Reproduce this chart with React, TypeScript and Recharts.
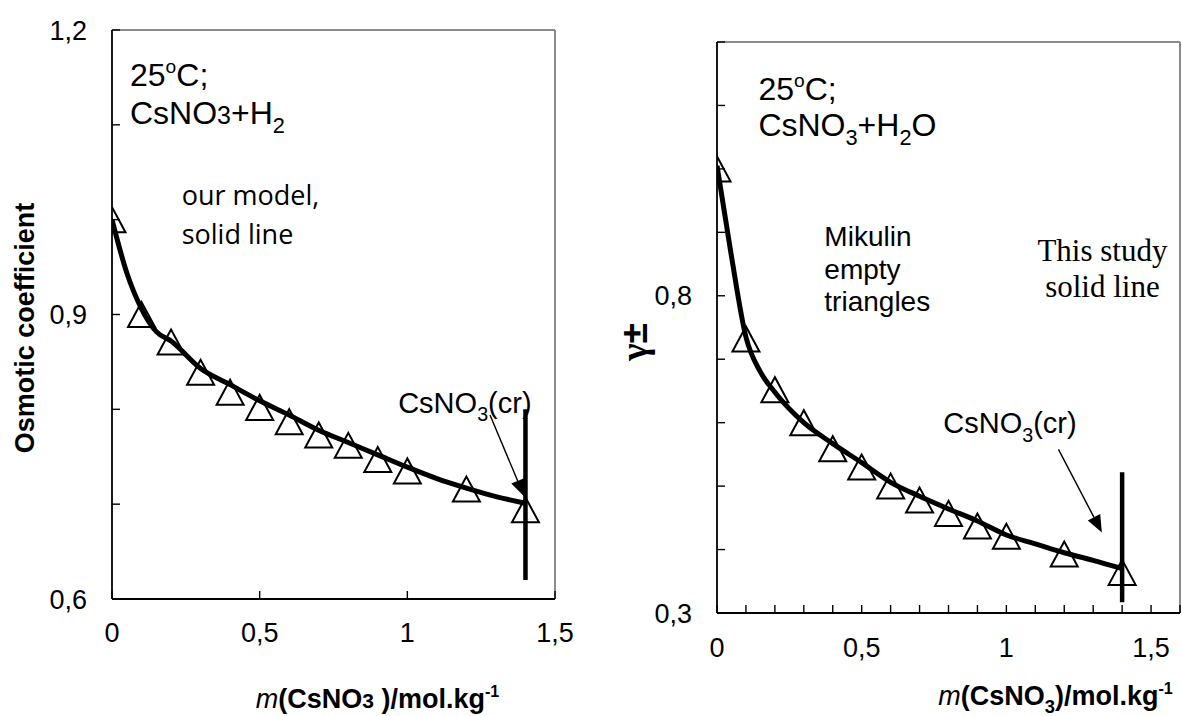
import React from 'react';
import { ComposedChart, Line, Scatter, XAxis, YAxis, ReferenceLine, ReferenceDot } from 'recharts';

// ---------- data ----------
const molality = [0, 0.1, 0.2, 0.3, 0.4, 0.5, 0.6, 0.7, 0.8, 0.9, 1.0, 1.2, 1.4];
const osmoticExp = [1.0, 0.9, 0.871, 0.839, 0.818, 0.802, 0.787, 0.773, 0.762, 0.747, 0.735, 0.716, 0.694];
const gammaExp = [1.0, 0.732, 0.652, 0.6, 0.559, 0.53, 0.5, 0.478, 0.457, 0.437, 0.421, 0.393, 0.364];

const modelMolality = [0, 0.05, 0.1, 0.15, 0.2, 0.3, 0.4, 0.5, 0.6, 0.7, 0.8, 0.9, 1.0, 1.1, 1.2, 1.3, 1.4];
const osmoticModel = [1.0, 0.944, 0.906, 0.882, 0.872, 0.843, 0.826, 0.809, 0.794, 0.778, 0.765, 0.752, 0.739, 0.727, 0.717, 0.708, 0.701];
const gammaModel = [1.005, 0.862, 0.735, 0.68, 0.648, 0.6, 0.567, 0.537, 0.506, 0.484, 0.464, 0.445, 0.423, 0.409, 0.395, 0.383, 0.37];

const leftXTicks = [0, 0.5, 1, 1.5];
const leftXLabels = [0, 0.5, 1, 1.5];
const leftYTicks = [0.6, 0.7, 0.8, 0.9, 1.0, 1.1, 1.2];
const leftYLabels = [0.6, 0.9, 1.2];

const rightXTicks = [0, 0.1, 0.2, 0.3, 0.4, 0.5, 0.6, 0.7, 0.8, 0.9, 1.0, 1.1, 1.2, 1.3, 1.4, 1.5, 1.6];
const rightXLabels = [0, 0.5, 1, 1.5];
const rightYTicks = [0.3, 0.4, 0.5, 0.6, 0.7, 0.8, 0.9, 1.0, 1.1, 1.2];
const rightYLabels = [0.3, 0.8];

const solubility = 1.4;
const leftSolubilityRange = [0.62, 0.8];
const rightSolubilityRange = [0.317, 0.522];

// ---------- styles ----------
const SANS = '"Liberation Sans", Arial, sans-serif';
const SERIF = '"Liberation Serif", "Times New Roman", serif';
const HUMAN = '"Open Sans", "Noto Sans", sans-serif';
const TICK_LEN = 8;
const TICK_FONT = 27;

type Seg = { t: string; k?: 'sub' | 'sup' | 'small'; i?: boolean };

function Rich(props: {
  x: number; y: number; size: number; segs: Seg[]; anchor?: string; weight?: string | number;
  family?: string; transform?: string;
}) {
  const { x, y, size, segs, anchor = 'start', weight = 'normal', family = SANS, transform } = props;
  let cur = 0;
  const spans = segs.map((s, idx) => {
    let target = 0;
    let fs = size;
    if (s.k === 'sub') { target = 0.28 * size; fs = 0.68 * size; }
    if (s.k === 'sup') { target = -0.4 * size; fs = 0.6 * size; }
    if (s.k === 'small') { fs = 0.78 * size; }
    const dy = target - cur;
    cur = target;
    return (
      <tspan key={idx} dy={dy} fontSize={fs} fontStyle={s.i ? 'italic' : undefined} fontWeight={s.i ? 'normal' : undefined}>
        {s.t}
      </tspan>
    );
  });
  return (
    <text x={x} y={y} fontSize={size} fontFamily={family} fontWeight={weight} textAnchor={anchor}
      fill="#000" transform={transform} style={{ whiteSpace: 'pre' }}>
      {spans}
    </text>
  );
}

const fmt = (v: number) => String(v).replace('.', ',');
const has = (arr: number[], v: number) => arr.some((a) => Math.abs(a - v) < 1e-9);

const makeYTick = (labels: number[], margin: number) => (p: any) => {
  const { x, y, payload } = p;
  const v = payload.value;
  const ax = x + margin;
  return (
    <g>
      <line x1={ax} x2={ax + TICK_LEN} y1={y} y2={y} stroke="#000" strokeWidth={1.4} />
      {has(labels, v) && (
        <text x={x} y={y} dy="0.36em" textAnchor="end" fontSize={TICK_FONT} fontFamily={SANS} fill="#000">
          {fmt(v)}
        </text>
      )}
    </g>
  );
};

const makeXTick = (labels: number[], margin: number) => (p: any) => {
  const { x, y, payload } = p;
  const v = payload.value;
  const ay = y - margin;
  return (
    <g>
      <line x1={x} x2={x} y1={ay} y2={ay - TICK_LEN} stroke="#000" strokeWidth={1.4} />
      {has(labels, v) && (
        <text x={x} y={y} dy="0.72em" textAnchor="middle" fontSize={TICK_FONT} fontFamily={SANS} fill="#000">
          {fmt(v)}
        </text>
      )}
    </g>
  );
};

const Triangle = (p: any) => {
  const { cx, cy } = p;
  if (cx == null || cy == null) return null;
  const w = 27;
  const h = 25;
  return (
    <polygon
      points={`${cx},${cy - h / 2} ${cx - w / 2},${cy + h / 2} ${cx + w / 2},${cy + h / 2}`}
      fill="none" stroke="#000" strokeWidth={2} strokeLinejoin="miter"
    />
  );
};

const Arrow = (p: any) => {
  const { x1, y1, x2, y2 } = p;
  const ang = Math.atan2(y2 - y1, x2 - x1);
  const L = 17;
  const W = 7;
  const bx = x2 - L * Math.cos(ang);
  const by = y2 - L * Math.sin(ang);
  const px = -Math.sin(ang) * W;
  const py = Math.cos(ang) * W;
  return (
    <g>
      <line x1={x1} y1={y1} x2={bx} y2={by} stroke="#000" strokeWidth={1.4} />
      <polygon points={`${x2},${y2} ${bx + px},${by + py} ${bx - px},${by - py}`} fill="#000" />
    </g>
  );
};

type Note = { x: number; y: number; size: number; segs: Seg[]; family?: string; anchor?: string };

const leftNotes: Note[] = [
  { x: 0.061, y: 1.141, size: 32, segs: [{ t: '25' }, { t: 'o', k: 'sup' }, { t: 'C;' }] },
  { x: 0.061, y: 1.101, size: 32, segs: [{ t: 'CsNO' }, { t: '3', k: 'small' }, { t: '+H' }, { t: '2', k: 'sub' }] },
  { x: 0.236, y: 1.0155, size: 27, family: HUMAN, segs: [{ t: 'our model,' }] },
  { x: 0.236, y: 0.9744, size: 27, family: HUMAN, segs: [{ t: 'solid line' }] },
  { x: 0.969, y: 0.796, size: 29, segs: [{ t: 'CsNO' }, { t: '3', k: 'sub' }, { t: '(cr)' }] },
];

const rightNotes: Note[] = [
  { x: 0.143, y: 1.109, size: 32, segs: [{ t: '25' }, { t: 'o', k: 'sup' }, { t: 'C;' }] },
  { x: 0.143, y: 1.0516, size: 32, segs: [{ t: 'CsNO' }, { t: '3', k: 'sub' }, { t: '+H' }, { t: '2', k: 'sub' }, { t: 'O' }] },
  { x: 0.371, y: 0.8786, size: 28, segs: [{ t: 'Mikulin' }] },
  { x: 0.371, y: 0.8267, size: 28, segs: [{ t: 'empty' }] },
  { x: 0.371, y: 0.7764, size: 28, segs: [{ t: 'triangles' }] },
  { x: 1.332, y: 0.855, size: 31, family: SERIF, anchor: 'middle', segs: [{ t: 'This study' }] },
  { x: 1.332, y: 0.798, size: 31, family: SERIF, anchor: 'middle', segs: [{ t: 'solid line' }] },
  { x: 0.782, y: 0.583, size: 29, segs: [{ t: 'CsNO' }, { t: '3', k: 'sub' }, { t: '(cr)' }] },
];

const leftArrow = [{ x: 1.28, y: 0.794 }, { x: 1.396, y: 0.708 }];
const rightArrow = [{ x: 1.18, y: 0.558 }, { x: 1.33, y: 0.427 }];

const renderNotes = (notes: Note[], prefix: string) =>
  notes.map((n, i) => (
    <ReferenceDot
      key={`${prefix}${i}`}
      x={n.x}
      y={n.y}
      r={0}
      ifOverflow="visible"
      shape={(p: any) => (
        <Rich x={p.cx} y={p.cy} size={n.size} segs={n.segs} family={n.family} anchor={n.anchor} />
      )}
    />
  ));

const leftExpData = molality.map((x, i) => ({ x, y: osmoticExp[i] }));
const leftModelData = modelMolality.map((x, i) => ({ x, y: osmoticModel[i] }));
const rightExpData = molality.map((x, i) => ({ x, y: gammaExp[i] }));
const rightModelData = modelMolality.map((x, i) => ({ x, y: gammaModel[i] }));

const FRAME = '#8a8a8a';

function LeftChart() {
  return (
    <ComposedChart width={590} height={716} margin={{ top: 30, right: 35, bottom: 0, left: 0 }}>
      <XAxis
        dataKey="x" type="number" domain={[0, 1.5]} ticks={leftXTicks} interval={0} allowDataOverflow
        height={117} tickSize={0} tickMargin={24} tickLine={false}
        axisLine={{ stroke: '#000', strokeWidth: 1.8 }}
        tick={makeXTick(leftXLabels, 24)}
        label={(p: any) => {
          const vb = p.viewBox;
          return (
            <Rich x={vb.x + vb.width / 2 + 44} y={vb.y + 109} size={27} weight="bold" anchor="middle"
              segs={[{ t: 'm', i: true }, { t: '(CsNO' }, { t: '3', k: 'small' }, { t: ' )/mol.kg' }, { t: '-1', k: 'sup' }]} />
          );
        }}
      />
      <YAxis
        type="number" domain={[0.6, 1.2]} ticks={leftYTicks} interval={0} allowDataOverflow
        width={112} tickSize={0} tickMargin={25} tickLine={false}
        axisLine={{ stroke: '#000', strokeWidth: 1.8 }}
        tick={makeYTick(leftYLabels, 25)}
        label={(p: any) => {
          const vb = p.viewBox;
          const cx = vb.x + 24;
          const cy = vb.y + vb.height / 2 + 13.5;
          return (
            <text x={cx} y={cy} dy="0.36em" textAnchor="middle" fontSize={27} fontWeight="bold"
              fontFamily={SANS} fill="#000" transform={`rotate(-90, ${cx}, ${cy})`}>
              Osmotic coefficient
            </text>
          );
        }}
      />
      <ReferenceLine y={1.2} stroke={FRAME} strokeWidth={2} />
      <ReferenceLine x={1.5} stroke={FRAME} strokeWidth={2} />
      <Scatter data={leftExpData} dataKey="y" shape={Triangle} isAnimationActive={false} />
      <Line data={leftModelData} dataKey="y" type="monotone" stroke="#000" strokeWidth={5} dot={false}
        activeDot={false} isAnimationActive={false} />
      <ReferenceLine
        segment={[{ x: solubility, y: leftSolubilityRange[0] }, { x: solubility, y: leftSolubilityRange[1] }]}
        stroke="#000" strokeWidth={4.5}
      />
      <ReferenceLine segment={leftArrow} shape={Arrow} />
      {renderNotes(leftNotes, 'l')}
    </ComposedChart>
  );
}

function RightChart() {
  return (
    <ComposedChart width={592} height={716} margin={{ top: 42, right: 2, bottom: 0, left: 0 }}
      style={{ overflow: 'visible' }}>
      <XAxis
        dataKey="x" type="number" domain={[0, 1.6]} ticks={rightXTicks} interval={0} allowDataOverflow
        height={103} tickSize={0} tickMargin={25} tickLine={false}
        axisLine={{ stroke: '#000', strokeWidth: 1.8 }}
        tick={makeXTick(rightXLabels, 25)}
        label={(p: any) => {
          const vb = p.viewBox;
          return (
            <Rich x={vb.x + vb.width / 2 + 107} y={vb.y + 92} size={27} weight="bold" anchor="middle"
              segs={[{ t: 'm', i: true }, { t: '(CsNO' }, { t: '3', k: 'sub' }, { t: ')/mol.kg' }, { t: '-1', k: 'sup' }]} />
          );
        }}
      />
      <YAxis
        type="number" domain={[0.3, 1.2]} ticks={rightYTicks} interval={0} allowDataOverflow
        width={127} tickSize={0} tickMargin={25} tickLine={false}
        axisLine={{ stroke: '#000', strokeWidth: 1.8 }}
        tick={makeYTick(rightYLabels, 25)}
        label={(p: any) => {
          const vb = p.viewBox;
          const cx = vb.x + 44;
          const cy = vb.y + vb.height / 2 + 14.5;
          return (
            <text x={cx} y={cy} dy="0.36em" textAnchor="middle" fontSize={37} fontWeight="bold"
              fontFamily={SANS} fill="#000" transform={`rotate(-90, ${cx}, ${cy})`}>
              <tspan fontFamily={SERIF}>γ</tspan>
              <tspan>±</tspan>
            </text>
          );
        }}
      />
      <ReferenceLine y={1.2} stroke={FRAME} strokeWidth={2} />
      <ReferenceLine x={1.6} stroke={FRAME} strokeWidth={2} />
      <Scatter data={rightExpData} dataKey="y" shape={Triangle} isAnimationActive={false} />
      <Line data={rightModelData} dataKey="y" type="monotone" stroke="#000" strokeWidth={5} dot={false}
        activeDot={false} isAnimationActive={false} />
      <ReferenceLine
        segment={[{ x: solubility, y: rightSolubilityRange[0] }, { x: solubility, y: rightSolubilityRange[1] }]}
        stroke="#000" strokeWidth={4.5}
      />
      <ReferenceLine segment={rightArrow} shape={Arrow} />
      {renderNotes(rightNotes, 'r')}
    </ComposedChart>
  );
}

export default function App() {
  return (
    <div style={{ position: 'absolute', left: 0, top: 0, width: 1182, height: 716, background: '#fff', overflow: 'hidden' }}>
      <div style={{ position: 'absolute', left: 0, top: 0 }}>
        <LeftChart />
      </div>
      <div style={{ position: 'absolute', left: 590, top: 0 }}>
        <RightChart />
      </div>
    </div>
  );
}
